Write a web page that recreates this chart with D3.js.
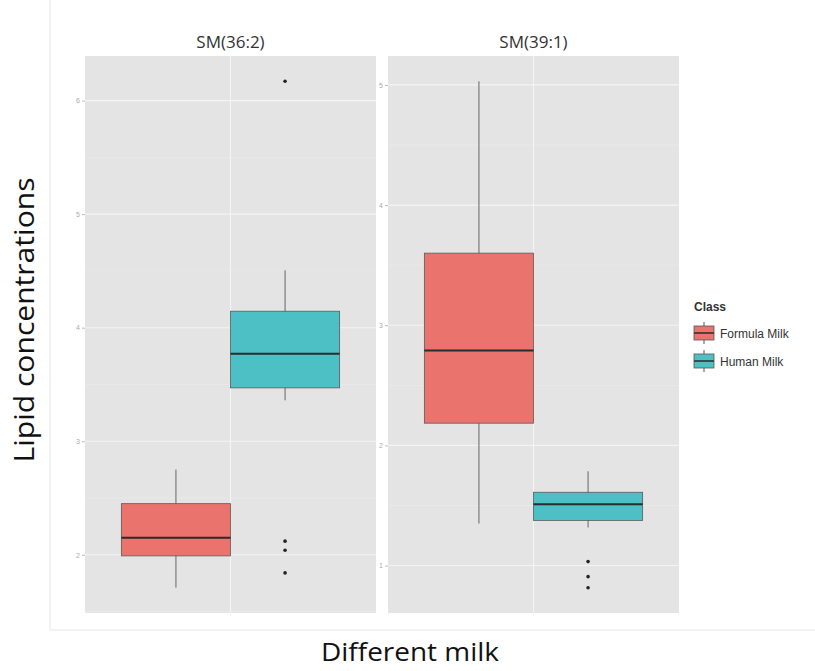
<!DOCTYPE html>
<html>
<head>
<meta charset="utf-8">
<script src="https://cdn.jsdelivr.net/npm/d3@7"></script>
<style>
  body { margin: 0; background: #fff; }
  svg { display: block; }
</style>
</head>
<body>
<div id="chart"></div>
<script>
const width = 815, height = 671;

// data
const facets = ["SM(36:2)", "SM(39:1)"];
const classes = ["Formula Milk", "Human Milk"];
const classColors = ["#EA736D", "#4CC0C5"];
// box stats: [lower whisker, Q1, median, Q3, upper whisker]
const sm362Formula = [1.71, 1.99, 2.15, 2.45, 2.75];
const sm362Human = [3.36, 3.47, 3.77, 4.145, 4.505];
const sm362FormulaOutliers = [];
const sm362HumanOutliers = [6.17, 2.12, 2.04, 1.84];
const sm391Formula = [1.35, 2.185, 2.79, 3.60, 5.03];
const sm391Human = [1.317, 1.376, 1.51, 1.61, 1.785];
const sm391FormulaOutliers = [];
const sm391HumanOutliers = [1.033, 0.908, 0.816];
const sm362Ticks = [2, 3, 4, 5, 6];
const sm391Ticks = [1, 2, 3, 4, 5];

const panelsData = [
  { name: facets[0], boxes: [sm362Formula, sm362Human], outliers: [sm362FormulaOutliers, sm362HumanOutliers], ticks: sm362Ticks },
  { name: facets[1], boxes: [sm391Formula, sm391Human], outliers: [sm391FormulaOutliers, sm391HumanOutliers], ticks: sm391Ticks }
];

const svg = d3.select("#chart").append("svg")
  .attr("width", width)
  .attr("height", height);

// light frame of the embedded figure
svg.append("line").attr("x1", 50).attr("x2", 50).attr("y1", 0).attr("y2", 630)
  .attr("stroke", "#e6e6e6").attr("stroke-width", 1);
svg.append("line").attr("x1", 50).attr("x2", width).attr("y1", 630).attr("y2", 630)
  .attr("stroke", "#e6e6e6").attr("stroke-width", 1);

const panelTop = 56, panelBottom = 613;
const panelX = [85, 388], panelW = 291;

panelsData.forEach(function(p, i) {
  const all = p.boxes.flat().concat(p.outliers.flat());
  const lo = d3.min(all), hi = d3.max(all), pad = (hi - lo) * 0.05;

  const y = d3.scaleLinear().domain([lo - pad, hi + pad]).range([panelBottom, panelTop]);
  const x = d3.scaleLinear().domain([0.4, 1.6]).range([panelX[i], panelX[i] + panelW]);

  const g = svg.append("g");

  g.append("rect")
    .attr("x", x(0.4)).attr("y", panelTop)
    .attr("width", panelW).attr("height", panelBottom - panelTop)
    .attr("fill", "#E4E4E4");

  const minor = d3.range(Math.ceil(y.domain()[0] * 2) / 2, y.domain()[1], 0.5)
    .filter(function(v) { return v % 1 !== 0; });
  g.selectAll(".minor").data(minor).enter().append("line")
    .attr("x1", x(0.4)).attr("x2", x(1.6))
    .attr("y1", function(d) { return y(d); }).attr("y2", function(d) { return y(d); })
    .attr("stroke", "#ECECEC").attr("stroke-width", 0.6);
  g.selectAll(".major").data(p.ticks).enter().append("line")
    .attr("x1", x(0.4)).attr("x2", x(1.6))
    .attr("y1", function(d) { return y(d); }).attr("y2", function(d) { return y(d); })
    .attr("stroke", "#F4F4F4").attr("stroke-width", 1.1);
  g.append("line")
    .attr("x1", x(1)).attr("x2", x(1)).attr("y1", panelTop).attr("y2", panelBottom + 3)
    .attr("stroke", "#F4F4F4").attr("stroke-width", 1.1);

  // y axis
  const axis = g.append("g")
    .attr("transform", "translate(" + x(0.4) + ",0)")
    .call(d3.axisLeft(y).tickValues(p.ticks).tickFormat(d3.format("d")).tickSize(3).tickPadding(2));
  axis.select(".domain").remove();
  axis.selectAll(".tick line").attr("stroke", "#bbb");
  axis.selectAll(".tick text").attr("fill", "#aaa").attr("font-size", 7)
    .attr("font-family", "Liberation Sans, Arial, sans-serif");

  // strip label
  g.append("text")
    .attr("x", x(1)).attr("y", 48)
    .attr("text-anchor", "middle")
    .attr("font-family", "Open Sans, sans-serif")
    .attr("font-size", 17)
    .attr("fill", "#333")
    .text(p.name);

  p.boxes.forEach(function(b, k) {
    const cx = 1 + (k === 0 ? -0.225 : 0.225);
    const half = 0.225;
    // whiskers
    g.append("line")
      .attr("x1", x(cx)).attr("x2", x(cx)).attr("y1", y(b[0])).attr("y2", y(b[4]))
      .attr("stroke", "#666").attr("stroke-width", 1);
    g.append("rect")
      .attr("x", x(cx - half)).attr("y", y(b[3]))
      .attr("width", x(cx + half) - x(cx - half))
      .attr("height", y(b[1]) - y(b[3]))
      .attr("fill", classColors[k])
      .attr("stroke", "#5a5a5a").attr("stroke-width", 0.8);
    g.append("line")
      .attr("x1", x(cx - half)).attr("x2", x(cx + half))
      .attr("y1", y(b[2])).attr("y2", y(b[2]))
      .attr("stroke", "#2b2b2b").attr("stroke-width", 2);
    g.selectAll(null).data(p.outliers[k]).enter().append("circle")
      .attr("cx", x(cx)).attr("cy", function(d) { return y(d); })
      .attr("r", 1.8).attr("fill", "#222");
  });
});

// axis titles
svg.append("text")
  .attr("transform", "translate(34,320) rotate(-90)")
  .attr("text-anchor", "middle")
  .attr("font-family", "Open Sans, sans-serif")
  .attr("font-size", 28)
  .attr("textLength", 285)
  .attr("lengthAdjust", "spacingAndGlyphs")
  .attr("fill", "#111")
  .text("Lipid concentrations");

svg.append("text")
  .attr("x", 410).attr("y", 661)
  .attr("text-anchor", "middle")
  .attr("font-family", "Open Sans, sans-serif")
  .attr("font-size", 26)
  .attr("textLength", 178)
  .attr("lengthAdjust", "spacingAndGlyphs")
  .attr("fill", "#111")
  .text("Different milk");

// legend
const legend = svg.append("g").attr("transform", "translate(693,0)");
legend.append("text")
  .attr("x", 1).attr("y", 311)
  .attr("font-family", "Liberation Sans, Arial, sans-serif")
  .attr("font-size", 12).attr("font-weight", "bold")
  .attr("fill", "#333")
  .text("Class");

const keys = legend.selectAll(".key").data(classes).enter().append("g")
  .attr("transform", function(d, i) { return "translate(0," + (322 + i * 28) + ")"; });
keys.append("line")
  .attr("x1", 11).attr("x2", 11).attr("y1", 0).attr("y2", 22)
  .attr("stroke", "#555").attr("stroke-width", 1);
keys.append("rect")
  .attr("x", 1).attr("y", 4).attr("width", 20).attr("height", 14)
  .attr("fill", function(d, i) { return classColors[i]; })
  .attr("stroke", "#555").attr("stroke-width", 0.8);
keys.append("line")
  .attr("x1", 1).attr("x2", 21).attr("y1", 11).attr("y2", 11)
  .attr("stroke", "#333").attr("stroke-width", 1.6);
keys.append("text")
  .attr("x", 27).attr("y", 16)
  .attr("font-family", "Liberation Sans, Arial, sans-serif")
  .attr("font-size", 12)
  .attr("fill", "#333")
  .text(function(d) { return d; });
</script>
</body>
</html>
